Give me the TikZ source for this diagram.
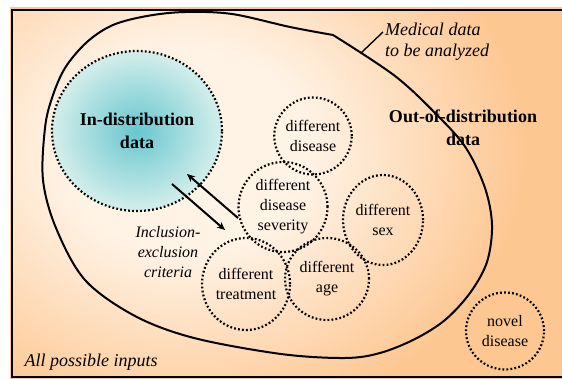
\documentclass[tikz,border=0pt]{standalone}
\usepackage{fontspec}
\setmainfont{Liberation Serif}
\usepackage{tikz}
\usetikzlibrary{shapes.geometric,arrows.meta}
\definecolor{peach}{RGB}{253,199,146}
\definecolor{cream}{RGB}{255,243,230}
\definecolor{tealc}{RGB}{104,198,207}
\definecolor{paleteal}{RGB}{212,238,235}
\pgfdeclareradialshading{glow}{\pgfpoint{0bp}{0bp}}{color(0bp)=(cream); color(9bp)=(cream);
     color(25bp)=(peach); color(50bp)=(peach)}

\begin{document}
\begin{tikzpicture}[x=1pt,y=-1pt,
     bubble/.style={ellipse,draw,line width=2.2pt,dash pattern=on 1.8pt off 2.2pt,
                    inner sep=0pt,align=center,font=\fontsize{16}{20}\selectfont},
     headline/.style={align=center,font=\bfseries\fontsize{18}{23}\selectfont},
     note/.style={align=center,font=\itshape\fontsize{18}{21}\selectfont}]
     \useasboundingbox (0,0) rectangle (562,379);
     \fill[white] (0,0) rectangle (562,379);
     \fill[peach] (10,7.5) rectangle (562,379);
     \begin{scope}
       \clip (12,10) rectangle (562,377);
       \shade[shading=glow] (185,150) ellipse[x radius=340pt,y radius=280pt];
     \end{scope}
     \draw[line width=2.4pt] (580,10) -- (12,10) -- (12,377) -- (580,377);
     \draw[line width=2pt] plot[smooth,tension=0.55] coordinates {(333,35) (395,76) (438,116)
          (466,148) (485,188) (492,225) (487,262) (470,293) (445,320) (415,339) (380,353)
          (345,358) (281,354) (194,338) (135,316) (85,280) (56,228) (43,180) (45,128) (52,98)
          (65,68) (87,42) (113,25) (147,16) (185,12) (232,14) (290,27) (333,35)};
     \node[bubble,inner color=tealc,outer color=paleteal,minimum width=170,minimum height=160,
           font=\bfseries\fontsize{18}{23}\selectfont] (indist) at (137,131) {In-distribution\\data};
     \node[headline] (ood) at (463,128) {Out-of-distribution\\data};
     \node[bubble,minimum width=74,minimum height=77] (disease) at (313,136) {different\\disease};
     \node[bubble,minimum width=89,minimum height=90] (severity) at (283,207) {different\\disease\\severity};
     \node[bubble,minimum width=80,minimum height=90] (sex) at (383,220) {different\\sex};
     \node[bubble,minimum width=84,minimum height=82] (age) at (327,279) {different\\age};
     \node[bubble,minimum width=88,minimum height=92] (treatment) at (246,284) {different\\treatment};
     \node[bubble,minimum width=78,minimum height=77] (novel) at (505,331) {novel\\disease};
     \node[note,font=\itshape\fontsize{16}{20}\selectfont] (criteria) at (168,252) {Inclusion-\\exclusion\\criteria};
     \node[note,align=left] (medical) at (437,42) {Medical data\\to be analyzed};
     \node[note,anchor=west] (inputs) at (21,362) {All possible inputs};
     \coordinate (medfrom) at (383,32);
     \coordinate (medto) at (361,53);
     \draw[line width=1.4pt] (medfrom) -- (medto);
     \coordinate (inA) at (172,184);
     \coordinate (inB) at (225,230);
     \coordinate (outA) at (238,218);
     \coordinate (outB) at (187,174);
     \draw[line width=2pt,-{Stealth[length=8pt,width=7pt]}] (inA) -- (inB);
     \draw[line width=2pt,-{Stealth[length=8pt,width=7pt]}] (outA) -- (outB);
\end{tikzpicture}
\end{document}
